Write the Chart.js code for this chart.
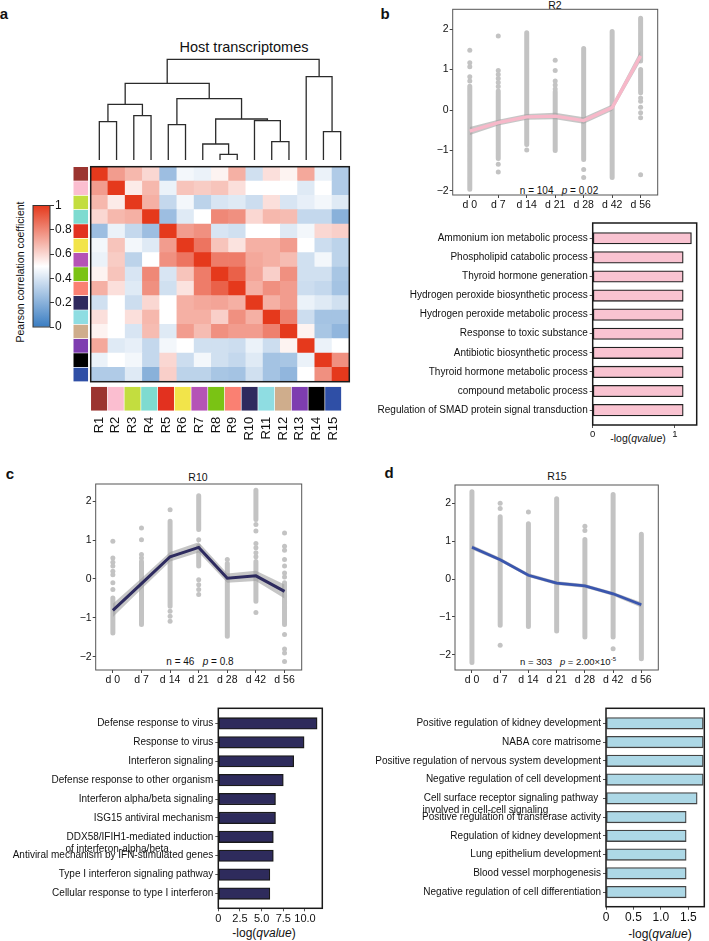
<!DOCTYPE html>
<html>
<head>
<meta charset="utf-8">
<script src="https://cdn.jsdelivr.net/npm/chart.js@4.4.1/dist/chart.umd.min.js"></script>
<style>
html, body { margin: 0; padding: 0; background: #fff; }
#fig { position: relative; width: 709px; height: 941px; overflow: hidden;
       font-family: 'Liberation Sans', Arial, sans-serif; color: #111; }
#fig canvas { position: absolute; }
.t { position: absolute; transform: translate(-50%, -50%); white-space: nowrap; line-height: 1; }
.pl { font-weight: bold; font-size: 15px; }
</style>
</head>
<body>
<div id="fig">
  <div class="t pl" style="left:4px;top:13px">a</div>
  <div class="t pl" style="left:385px;top:13px">b</div>
  <div class="t pl" style="left:10px;top:473px">c</div>
  <div class="t pl" style="left:389px;top:472px">d</div>

  <div class="t" style="left:244px;top:47px;font-size:14.5px">Host transcriptomes</div>
  <div class="t" style="left:20px;top:272px;font-size:10.5px;transform:translate(-50%,-50%) rotate(-90deg)">Pearson correlation coefficient</div>

  <div class="t" style="left:555px;top:5px;font-size:10.5px">R2</div>
  <div class="t" style="left:198px;top:477px;font-size:10.5px">R10</div>
  <div class="t" style="left:557px;top:476px;font-size:10.5px">R15</div>

  <div class="t" style="left:559px;top:190.5px;font-size:10px">n = 104&nbsp;&nbsp;&nbsp;<i>p</i> = 0.02</div>
  <div class="t" style="left:200px;top:662px;font-size:10px">n = 46&nbsp;&nbsp;&nbsp;<i>p</i> = 0.8</div>
  <div class="t" style="left:568px;top:661px;font-size:9.5px">n = 303&nbsp;&nbsp;&nbsp;<i>p</i> = 2.00×10<sup style="font-size:6px">-5</sup></div>

  <div class="t" style="left:638px;top:438px;font-size:10.5px">-log(<i>qvalue</i>)</div>
  <div class="t" style="left:264px;top:933px;font-size:12px">-log(<i>qvalue</i>)</div>
  <div class="t" style="left:660px;top:934px;font-size:12px">-log(<i>qvalue</i>)</div>
</div>

<script>
// ---------------- data ----------------
const regions = ['R1','R2','R3','R4','R5','R6','R7','R8','R9','R10','R11','R12','R13','R14','R15'];
const regionColors = ['#9b3430','#fbbed0','#c3dd3f','#7edbd0','#e2311f','#f2e44a','#b553b6','#7ac314',
                      '#fa8072','#2f2a5e','#8fdde2','#cfad8c','#7e3db0','#000000','#2f4fa6'];

// Pearson correlation between regions (row/col order = regions)
const corr = [
  [1.00,0.75,0.68,0.60,0.25,0.47,0.45,0.53,0.70,0.38,0.58,0.53,0.72,0.45,0.30],
  [0.75,1.00,0.55,0.68,0.45,0.65,0.63,0.65,0.58,0.50,0.50,0.50,0.42,0.50,0.30],
  [0.68,0.55,1.00,0.70,0.35,0.47,0.33,0.40,0.42,0.37,0.58,0.40,0.44,0.47,0.42],
  [0.60,0.68,0.70,1.00,0.25,0.42,0.50,0.80,0.78,0.60,0.68,0.67,0.35,0.35,0.20],
  [0.25,0.45,0.35,0.25,1.00,0.75,0.78,0.40,0.38,0.50,0.50,0.42,0.47,0.60,0.62],
  [0.47,0.65,0.47,0.42,0.75,1.00,0.85,0.65,0.57,0.70,0.70,0.75,0.50,0.37,0.33],
  [0.45,0.63,0.33,0.50,0.78,0.85,1.00,0.83,0.83,0.72,0.70,0.67,0.38,0.47,0.33],
  [0.53,0.65,0.40,0.80,0.40,0.65,0.83,1.00,0.90,0.73,0.62,0.78,0.38,0.38,0.28],
  [0.70,0.58,0.42,0.78,0.38,0.57,0.83,0.90,1.00,0.70,0.78,0.75,0.37,0.35,0.27],
  [0.38,0.50,0.37,0.60,0.50,0.70,0.72,0.73,0.70,1.00,0.70,0.75,0.45,0.42,0.38],
  [0.58,0.50,0.58,0.68,0.50,0.70,0.70,0.62,0.78,0.70,1.00,0.82,0.37,0.27,0.27],
  [0.53,0.50,0.40,0.67,0.42,0.75,0.67,0.78,0.75,0.75,0.82,1.00,0.53,0.28,0.22],
  [0.72,0.42,0.44,0.35,0.47,0.50,0.38,0.38,0.37,0.45,0.37,0.53,1.00,0.45,0.50],
  [0.45,0.50,0.47,0.35,0.60,0.37,0.47,0.38,0.35,0.42,0.27,0.28,0.45,1.00,0.78],
  [0.30,0.30,0.42,0.20,0.62,0.33,0.33,0.28,0.27,0.38,0.27,0.22,0.50,0.78,1.00]
];
const colorbarTicks = [0, 0.2, 0.4, 0.6, 0.8, 1];

// hclust-style merges: negative = leaf index, positive = earlier merge
const dendroMerge = [[-8,-9],[-7,1],[-11,-12],[-10,3],[2,4],[-5,-6],[6,5],
                     [-1,-2],[-3,-4],[8,9],[10,7],[-14,-15],[-13,12],[11,13]];
const dendroHeight = [0.057,0.16,0.183,0.393,0.41,0.353,0.613,0.383,0.443,0.557,0.767,0.283,0.833,1.007];

const days = ['d 0','d 7','d 14','d 21','d 28','d 42','d 56'];
const zTicks = [-2, -1, 0, 1, 2];

// R2 time course: [day, from, to] dense stretches of points, [day, value] single points
const r2Runs = [[1,-1.96,0.59],[2,-1.2,0.47],[3,-0.85,1.91],[4,-1.0,0.45],[5,-1.22,1.52],
                [6,-1.67,1.94],[7,1.21,2.27],[7,0.43,1.0]];
const r2Dots = [[1,1.48],[1,1.17],[1,1.07],[1,0.82],[1,0.72],[2,1.83],[2,0.98],[2,0.88],[2,0.78],
                [2,0.68],[2,0.58],[2,-1.34],[2,-1.53],[3,-0.99],[4,1.23],[4,0.98],[4,0.72],[4,0.62],
                [4,0.52],[5,-1.47],[5,-1.67],[7,0.3],[7,0.22],[7,0.07],[7,-0.07],[7,-0.19],[7,-1.6]];
const r2Mean = [-0.52,-0.31,-0.17,-0.15,-0.26,0.06,1.34];
const r2Low  = [-0.62,-0.38,-0.24,-0.23,-0.34,-0.02,1.21];
const r2High = [-0.42,-0.24,-0.10,-0.07,-0.18,0.14,1.47];

// R10 time course
const r10Runs = [[1,-1.39,-0.49],[2,-1.17,0.45],[3,-0.7,1.48],[4,1.27,2.14],[4,0.33,0.67],
                 [5,-1.47,0.4],[6,1.53,2.28],[6,-0.57,0.45],[7,-1.17,-0.1]];
const r10Dots = [[1,0.97],[1,0.54],[1,0.43],[1,0.33],[1,0.2],[1,0.11],[1,-0.1],[1,-0.27],
                 [2,1.31],[2,1.01],[2,0.63],[2,0.54],[3,1.78],[3,-0.83],[3,-0.96],[3,-1.09],
                 [4,1.01],[4,0.84],[4,-0.02],[4,-0.15],[4,-0.27],[4,-0.4],[5,0.5],
                 [6,1.4],[6,1.23],[6,0.91],[6,0.8],[6,0.67],[6,0.57],[6,-0.86],
                 [7,1.18],[7,0.84],[7,0.74],[7,0.5],[7,0.33],[7,0.15],[7,0.05],[7,-1.43],
                 [7,-1.8],[7,-1.9],[7,-2.12]];
const r10Mean = [-0.81,-0.12,0.57,0.81,0.02,0.08,-0.32];
const r10Low  = [-0.98,-0.26,0.45,0.68,-0.10,-0.05,-0.50];
const r10High = [-0.64,0.02,0.69,0.94,0.14,0.21,-0.14];

// R15 time course
const r15Runs = [[1,-2.2,2.3],[2,-1.22,1.64],[3,-1.25,1.46],[4,-1.37,2.12],[5,-1.53,1.04],
                 [6,-1.53,2.23],[7,-2.1,1.18]];
const r15Dots = [[2,2.0],[2,1.86],[2,-1.75],[3,1.77],[5,1.39],[5,1.28],[6,-1.84]];
const r15Mean = [0.84,0.51,0.10,-0.11,-0.18,-0.39,-0.68];
const r15Low  = [0.78,0.46,0.05,-0.16,-0.23,-0.44,-0.75];
const r15High = [0.90,0.56,0.15,-0.06,-0.13,-0.34,-0.61];

// enrichment terms
const r2Terms = ['Ammonium ion metabolic process','Phospholipid catabolic process','Thyroid hormone generation',
  'Hydrogen peroxide biosynthetic process','Hydrogen peroxide metabolic process','Response to toxic substance',
  'Antibiotic biosynthetic process','Thyroid hormone metabolic process','compound metabolic process',
  'Regulation of SMAD protein signal transduction'];
const r2Score = [1.2,1.1,1.1,1.1,1.1,1.1,1.1,1.1,1.1,1.1];

const r10Terms = ['Defense response to virus','Response to virus','Interferon signaling',
  'Defense response to other organism','Interferon alpha/beta signaling','ISG15 antiviral mechanism',
  ['DDX58/IFIH1-mediated induction','of interferon-alpha/beta'],
  'Antiviral mechanism by IFN-stimulated genes','Type I interferon signaling pathway',
  'Cellular response to type I interferon'];
const r10Score = [11.4,9.9,8.7,7.5,6.6,6.6,6.35,6.35,5.95,5.95];

const r15Terms = ['Positive regulation of kidney development','NABA core matrisome',
  'Positive regulation of nervous system development','Negative regulation of cell development',
  ['Cell surface receptor signaling pathway ','involved in cell-cell signaling'],
  'Positive regulation of transferase activity','Regulation of kidney development',
  'Lung epithelium development','Blood vessel morphogenesis','Negative regulation of cell differentiation'];
const r15Score = [1.77,1.77,1.77,1.77,1.66,1.46,1.46,1.46,1.46,1.46];

// ---------------- helpers ----------------
const FONT = "'Liberation Sans', Arial, sans-serif";
Chart.defaults.font.family = FONT;
Chart.defaults.color = '#111';
Chart.defaults.animation = false;
Chart.defaults.plugins.legend.display = false;
Chart.defaults.plugins.tooltip.enabled = false;

const DOT = '#c3c3c3';
const fig = document.getElementById('fig');

function canvasAt(left, top, w, h) {
    const c = document.createElement('canvas');
    c.width = w; c.height = h;
    c.style.left = left + 'px'; c.style.top = top + 'px';
    c.style.width = w + 'px'; c.style.height = h + 'px';
    fig.appendChild(c);
    return c;
}

const fixW = w => s => { s.width = w; };
const fixH = h => s => { s.height = h; };
const setTicks = vals => s => { s.ticks = vals.map(v => ({ value: v })); };

// box round the plot area
const frame = {
    id: 'frame',
    afterDatasetsDraw(chart, args, opts) {
        if (!opts.color) return;
        const { left, top, right, bottom } = chart.chartArea;
        const ctx = chart.ctx;
        ctx.save();
        ctx.strokeStyle = opts.color;
        ctx.lineWidth = opts.width;
        ctx.strokeRect(left, top, right - left, bottom - top);
        ctx.restore();
    }
};

const LOW = [58, 125, 194], MID = [255, 255, 255], HIGH = [229, 57, 28];
function corrColor(v) {
    const t = Math.max(0, Math.min(1, v));
    const [a, b, f] = t < 0.5 ? [LOW, MID, t / 0.5] : [MID, HIGH, (t - 0.5) / 0.5];
    const c = a.map((x, i) => Math.round(x + (b[i] - x) * f));
    return `rgb(${c.join(',')})`;
}

// --- heatmap ---
new Chart(canvasAt(85, 160, 270, 230), {
    type: 'bar',
    data: {
        labels: regions,
        datasets: corr.map(row => ({
            data: row.map(() => 1),
            backgroundColor: row.map(corrColor),
            borderWidth: 0, barPercentage: 1, categoryPercentage: 1
        })).reverse()
    },
    options: {
        responsive: false,
        layout: { padding: { left: 5.7, right: 5.7, top: 6.7, bottom: 8.3 } },
        scales: {
            x: { display: false, stacked: true },
            y: { display: false, stacked: true, min: 0, max: 15 }
        },
        plugins: { frame: { color: '#1a1a1a', width: 1.5 } }
    },
    plugins: [frame]
});

// --- row colour strip ---
new Chart(canvasAt(70, 160, 22, 230), {
    type: 'bar',
    data: {
        labels: [''],
        datasets: regionColors.map(c => ({
            data: [1], backgroundColor: c, borderColor: '#fff',
            borderWidth: { top: 0.6, bottom: 0.6, left: 0, right: 0 }, borderSkipped: false,
            barPercentage: 1, categoryPercentage: 1
        })).reverse()
    },
    options: {
        responsive: false,
        layout: { padding: { left: 3.3, right: 3.7, top: 6.7, bottom: 8.3 } },
        scales: {
            x: { display: false, stacked: true },
            y: { display: false, stacked: true, min: 0, max: 15 }
        }
    }
});

// --- column colour strip with region labels ---
new Chart(canvasAt(85, 380, 270, 80), {
    type: 'bar',
    data: {
        labels: regions,
        datasets: [{ data: regions.map(() => 1), backgroundColor: regionColors,
                     borderWidth: 0, barPercentage: 1, categoryPercentage: 0.96 }]
    },
    options: {
        responsive: false,
        layout: { padding: { left: 5.7, right: 5.7, top: 6.7, bottom: 0 } },
        scales: {
            x: {
                grid: { display: false, drawTicks: false }, border: { display: false },
                ticks: { minRotation: 90, maxRotation: 90, autoSkip: false, padding: 6,
                         font: { size: 13 }, color: '#111' },
                afterFit: fixH(49.3)
            },
            y: { display: false, min: 0, max: 1 }
        }
    }
});

// --- dendrogram ---
const nodeX = [], nodeH = [];
const posOf = k => k < 0 ? [-k, 0] : [nodeX[k - 1], nodeH[k - 1]];
const dendroSets = dendroMerge.map(([a, b], i) => {
    const [xa, ha] = posOf(a), [xb, hb] = posOf(b), h = dendroHeight[i];
    nodeX.push((xa + xb) / 2); nodeH.push(h);
    return {
        data: [{ x: xa, y: ha }, { x: xa, y: h }, { x: xb, y: h }, { x: xb, y: hb }],
        showLine: true, borderColor: '#2b2b2b', borderWidth: 1.3, pointRadius: 0, clip: false
    };
});
new Chart(canvasAt(85, 50, 270, 112), {
    type: 'scatter',
    data: { datasets: dendroSets },
    options: {
        responsive: false,
        layout: { padding: { left: 5.7, right: 5.7, top: 0, bottom: 2 } },
        scales: {
            x: { display: false, min: 0.5, max: 15.5 },
            y: { display: false, min: 0, max: 1.1 }
        }
    }
});

// --- colour bar ---
new Chart(canvasAt(25, 195, 60, 145), {
    type: 'bar',
    data: {
        labels: [''],
        datasets: [{
            data: [[0, 1]], barPercentage: 1, categoryPercentage: 1, borderWidth: 0,
            backgroundColor: c => {
                const ch = c.chart;
                if (!ch.chartArea) return '#fff';
                const y = ch.scales.y;
                const g = ch.ctx.createLinearGradient(0, y.getPixelForValue(0), 0, y.getPixelForValue(1));
                g.addColorStop(0, corrColor(0));
                g.addColorStop(0.5, corrColor(0.5));
                g.addColorStop(1, corrColor(1));
                return g;
            }
        }]
    },
    options: {
        responsive: false,
        layout: { padding: { left: 8, right: 0, top: 10.5, bottom: 13 } },
        scales: {
            x: { display: false },
            y: {
                position: 'right', min: 0, max: 1,
                afterBuildTicks: setTicks(colorbarTicks),
                ticks: { callback: v => (v === 0 || v === 1) ? String(v) : v.toFixed(1),
                         font: { size: 12 }, padding: 1, color: '#111' },
                grid: { drawOnChartArea: false, tickLength: 4, color: '#333' },
                border: { display: false },
                afterFit: fixW(35)
            }
        },
        plugins: { frame: { color: '#333', width: 1 } }
    },
    plugins: [frame]
});

// --- time-course panels ---
function timeCourse(canvas, o) {
    const pts = arr => arr.map((v, i) => ({ x: i + 1, y: v }));
    const runData = [];
    o.runs.forEach(([d, lo, hi]) => runData.push({ x: d, y: lo }, { x: d, y: hi }, { x: d, y: null }));
    return new Chart(canvas, {
        type: 'scatter',
        data: {
            datasets: [
                { data: pts(o.mean), showLine: true, borderColor: o.color, borderWidth: o.lw,
                  pointRadius: 0, order: 0 },
                { data: pts(o.high), showLine: true, borderColor: 'transparent', borderWidth: 0,
                  pointRadius: 0, order: 1 },
                { data: pts(o.low), showLine: true, borderColor: 'transparent', borderWidth: 0,
                  pointRadius: 0, fill: '-1', backgroundColor: 'rgba(160,160,160,0.6)', order: 1 },
                { data: runData, showLine: true, spanGaps: false, borderColor: DOT, borderWidth: 5,
                  borderCapStyle: 'round', pointRadius: 0, order: 2 },
                { data: o.dots.map(([d, v]) => ({ x: d, y: v })), pointRadius: 2.5,
                  pointBackgroundColor: DOT, pointBorderWidth: 0, pointBorderColor: 'transparent', order: 2 }
            ]
        },
        options: {
            responsive: false,
            layout: { padding: o.pad },
            scales: {
                x: {
                    type: 'linear', min: 0.4, max: 7.6,
                    afterBuildTicks: setTicks(days.map((_, i) => i + 1)),
                    ticks: { callback: v => days[v - 1], font: { size: 10.5 }, padding: 1,
                             autoSkip: false, maxRotation: 0, color: '#111' },
                    grid: { drawOnChartArea: false, tickLength: 3, color: '#444' },
                    border: { display: false },
                    afterFit: fixH(20)
                },
                y: {
                    min: o.yMin, max: o.yMax,
                    afterBuildTicks: setTicks(zTicks),
                    ticks: { callback: v => v < 0 ? '\u2212' + (-v) : String(v),
                             font: { size: 10.5 }, padding: 1, color: '#111' },
                    grid: { drawOnChartArea: false, tickLength: 3, color: '#444' },
                    border: { display: false },
                    afterFit: fixW(o.yw)
                }
            },
            plugins: { frame: { color: '#555', width: 1 } }
        },
        plugins: [frame]
    });
}

timeCourse(canvasAt(400, 0, 265, 215), {
    runs: r2Runs, dots: r2Dots, mean: r2Mean, low: r2Low, high: r2High,
    color: '#f7b8c9', lw: 3.4, yMin: -2.1, yMax: 2.49, yw: 52.7,
    pad: { left: 0, right: 7.3, top: 9.3, bottom: 0 }
});
timeCourse(canvasAt(40, 475, 270, 215), {
    runs: r10Runs, dots: r10Dots, mean: r10Mean, low: r10Low, high: r10High,
    color: '#2e2b5f', lw: 3, yMin: -2.34, yMax: 2.44, yw: 55.7,
    pad: { left: 0, right: 8.3, top: 9, bottom: 0 }
});
timeCourse(canvasAt(400, 475, 265, 215), {
    runs: r15Runs, dots: r15Dots, mean: r15Mean, low: r15Low, high: r15High,
    color: '#3a56ae', lw: 2.8, yMin: -2.4, yMax: 2.48, yw: 55,
    pad: { left: 0, right: 6.7, top: 10, bottom: 0 }
});

// --- enrichment bar panels ---
const TERM_FONT = 10;
const measureCtx = document.createElement('canvas').getContext('2d');
function labelLines(term) {
    if (!Array.isArray(term)) return term;
    measureCtx.font = `${TERM_FONT}px ${FONT}`;
    const w = s => measureCtx.measureText(s).width;
    const maxW = Math.max(...term.map(w));
    const sp = w(' ');
    // keep the lines left-aligned inside a right-aligned block
    return [''].concat(term.map(s => { let t = s; while (w(t) + sp / 2 < maxW) t += ' '; return t; }));
}

function termBars(canvas, o) {
    return new Chart(canvas, {
        type: 'bar',
        data: {
            datasets: [{
                data: o.scores.map((v, i) => ({ x: v, y: i + 1 })),
                backgroundColor: o.fill, borderColor: o.edge, borderWidth: 1.3,
                borderSkipped: false, barThickness: 11.5
            }]
        },
        options: {
            indexAxis: 'y',
            responsive: false,
            layout: { padding: o.pad },
            scales: {
                y: {
                    type: 'linear', reverse: true, min: 0.2, max: 10.78, offset: false,
                    afterBuildTicks: setTicks(o.terms.map((_, i) => i + 1)),
                    ticks: { callback: v => labelLines(o.terms[v - 1]), font: { size: TERM_FONT },
                             padding: 2, autoSkip: false, color: '#111' },
                    grid: { drawOnChartArea: false, tickLength: 3, color: '#555', offset: false },
                    border: { display: false },
                    afterFit: fixW(o.yw)
                },
                x: {
                    min: 0, max: o.xMax,
                    afterBuildTicks: setTicks(o.xTicks),
                    ticks: { callback: v => o.xLabels[o.xTicks.indexOf(v)], font: { size: o.xFont },
                             padding: 1, color: '#111', autoSkip: false, minRotation: 0, maxRotation: 0 },
                    grid: { drawOnChartArea: false, tickLength: 3, color: '#555' },
                    border: { display: false },
                    afterFit: fixH(o.xh)
                }
            },
            plugins: { frame: { color: '#1a1a1a', width: 1.5 } }
        },
        plugins: [frame]
    });
}

termBars(canvasAt(355, 215, 350, 225), {
    terms: r2Terms, scores: r2Score, fill: '#f9c3d1', edge: '#222',
    xMax: 1.264, xTicks: [0, 1], xLabels: ['0', '1'], xFont: 9.5, xh: 12, yw: 237.7,
    pad: { left: 0, right: 8.3, top: 7.7, bottom: 3 }
});
termBars(canvasAt(0, 700, 330, 230), {
    terms: r10Terms, scores: r10Score, fill: '#2e2b5c', edge: '#1a1a1a',
    xMax: 12, xTicks: [0, 2.5, 5, 7.5, 10], xLabels: ['0', '2.5', '5.0', '7.5', '10.0'],
    xFont: 11, xh: 20, yw: 218.3,
    pad: { left: 0, right: 7.7, top: 8.3, bottom: 1.7 }
});
termBars(canvasAt(340, 700, 369, 230), {
    terms: r15Terms, scores: r15Score, fill: '#add8e6', edge: '#444',
    xMax: 1.79, xTicks: [0, 0.5, 1, 1.5], xLabels: ['0', '0.5', '1.0', '1.5'],
    xFont: 12, xh: 20, yw: 266,
    pad: { left: 0, right: 4.7, top: 8.3, bottom: 3.3 }
});
</script>
</body>
</html>
